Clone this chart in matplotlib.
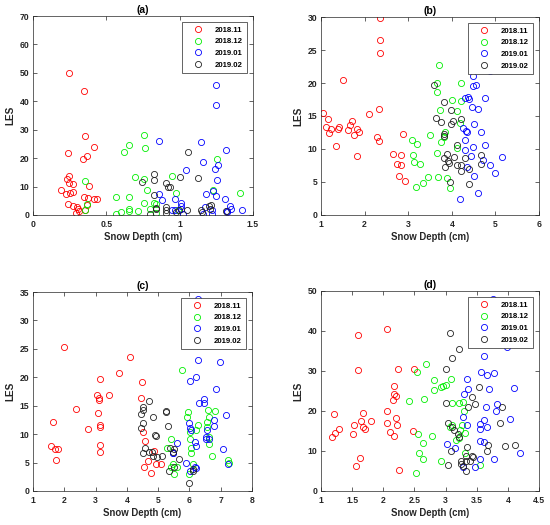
import matplotlib
matplotlib.use("Agg")
import matplotlib.pyplot as plt

plt.rcParams['font.family'] = ['Liberation Sans', 'DejaVu Sans']
plt.rcParams['font.weight'] = 'bold'

series_names = ["2018.11", "2018.12", "2019.01", "2019.02"]
series_colors = ["#ff0000", "#00ee00", "#0000ff", "#222222"]

# ---------------- Panel (a) ----------------
a_1811_x = [0.243, 0.35, 0.357, 0.236, 0.416, 0.37, 0.34, 0.245, 0.234, 0.243, 0.275, 0.384, 0.189, 0.273,
            0.227, 0.255, 0.35, 0.375, 0.418, 0.436, 0.236, 0.275, 0.37, 0.30, 0.305, 0.352, 0.29, 0.311]
a_1811_y = [49.8, 43.6, 27.8, 21.8, 24.0, 20.7, 19.7, 13.7, 12.5, 11.1, 10.8, 10.3, 8.8, 8.2,
            7.4, 7.6, 6.2, 6.0, 5.5, 5.7, 3.9, 3.2, 3.5, 2.7, 2.1, 1.9, 0.8, 1.5]
a_1812_x = [0.357, 0.368, 0.355, 0.568, 0.568, 0.60, 0.618, 0.657, 0.655, 0.655, 0.655, 0.695, 0.714, 0.755,
            0.755, 0.757, 0.766, 0.775, 0.80, 0.825, 0.84, 0.836, 0.945, 0.973, 0.989, 1.252, 1.227, 1.41]
a_1812_y = [12.0, 3.8, 1.8, 6.4, 0.35, 0.9, 22.0, 24.5, 6.2, 2.0, 1.3, 13.2, 1.5, 12.8,
            4.3, 28.0, 23.4, 8.9, 2.0, 4.1, 3.9, 0.8, 13.7, 7.9, 1.8, 19.7, 8.8, 7.9]
a_1901_x = [1.248, 1.248, 0.857, 1.145, 1.318, 1.161, 1.264, 1.243, 1.043, 1.257, 0.859, 0.88, 1.182, 1.227,
            1.25, 1.309, 1.345, 1.35, 1.425, 0.97, 1.011, 1.011, 1.007, 0.97, 0.95, 1.02, 1.157, 1.17,
            1.218, 1.22, 1.32, 1.32]
a_1901_y = [45.8, 38.8, 26.0, 25.7, 23.0, 18.5, 17.6, 16.1, 15.8, 12.3, 7.3, 5.2, 7.5, 8.6,
            6.8, 5.5, 3.3, 2.2, 1.9, 5.6, 4.1, 3.2, 2.2, 1.8, 1.8, 0.5, 0.35, 2.9,
            0.35, 1.8, 1.3, 0.9]
a_1902_x = [0.827, 0.827, 0.741, 0.905, 0.923, 0.936, 1.005, 1.059, 1.123, 0.827, 0.84, 0.84, 0.905, 0.905,
            0.905, 0.80, 0.973, 0.995, 1.052, 1.145, 1.152, 1.198, 1.214, 1.207, 1.318]
a_1902_y = [14.3, 12.2, 11.7, 11.2, 9.7, 10.0, 13.4, 22.0, 13.0, 7.2, 2.3, 2.0, 2.8, 1.8,
            0.6, 0.5, 1.0, 1.9, 1.8, 1.8, 0.9, 3.3, 3.6, 2.0, 1.3]

# ---------------- Panel (b) ----------------
b_1811_x = [2.351, 2.344, 2.359, 1.511, 1.046, 1.153, 1.122, 1.237, 1.191, 1.382, 1.405, 1.618, 1.664, 1.718,
            1.817, 1.756, 1.87, 1.351, 1.817, 2.092, 2.328, 2.29, 2.336, 2.87, 2.649, 2.84, 2.748, 2.824,
            2.79, 2.916]
b_1811_y = [29.8, 26.5, 24.6, 20.5, 15.4, 14.6, 13.4, 13.0, 12.4, 13.1, 13.4, 12.9, 13.7, 14.3,
            13.0, 12.1, 12.6, 10.4, 9.0, 15.3, 16.1, 11.8, 11.2, 12.2, 9.2, 9.1, 7.7, 7.5,
            5.9, 5.2]
b_1812_x = [3.707, 3.67, 3.65, 4.22, 4.0, 4.22, 3.72, 4.13, 4.18, 3.84, 3.81, 3.75, 3.5, 3.08,
            3.2, 3.12, 3.14, 3.26, 3.67, 3.68, 3.9, 3.46, 3.33, 3.17, 3.96, 4.13]
b_1812_y = [22.8, 20.0, 18.6, 20.0, 17.5, 17.2, 15.9, 15.8, 14.0, 12.6, 11.8, 11.1, 12.1, 11.3,
            10.8, 9.1, 8.1, 7.7, 9.4, 5.8, 5.6, 5.8, 4.9, 4.2, 4.1, 10.1]
b_1901_x = [4.49, 4.48, 4.56, 4.88, 4.3, 4.37, 4.4, 4.76, 4.46, 4.61, 4.52, 4.25, 4.33, 4.36,
            4.66, 4.3, 4.76, 4.49, 4.3, 4.43, 4.71, 5.15, 4.36, 4.87, 4.98, 4.52, 4.6, 4.19]
b_1901_y = [21.0, 19.6, 19.7, 21.8, 17.7, 17.9, 17.6, 17.7, 16.3, 16.0, 13.8, 13.2, 12.8, 12.5,
            12.6, 11.3, 10.6, 10.3, 9.9, 9.0, 8.4, 8.8, 7.3, 7.6, 6.3, 5.9, 3.4, 2.4]
b_1902_x = [3.6, 3.81, 3.98, 3.63, 3.75, 4.03, 3.99, 4.22, 3.81, 3.81, 4.11, 3.89, 3.81, 3.92,
            3.94, 3.85, 4.05, 4.11, 4.31, 4.22, 4.2, 4.39, 4.67, 4.68, 3.95, 4.4]
b_1902_y = [19.7, 17.1, 15.9, 14.7, 14.1, 14.2, 13.8, 14.6, 12.2, 12.0, 10.6, 9.3, 8.6, 8.2,
            7.9, 7.2, 8.8, 7.6, 8.7, 7.5, 6.7, 7.0, 9.1, 7.7, 5.0, 4.7]

# ---------------- Panel (c) ----------------
c_1811_x = [1.98, 4.11, 3.76, 3.15, 4.49, 2.36, 3.06, 3.12, 3.11, 3.42, 4.45, 3.09, 1.64, 3.14,
            3.15, 2.75, 4.52, 4.59, 3.14, 3.14, 1.59, 1.70, 1.80, 1.75, 4.87, 4.68, 4.93, 5.08,
            4.56, 4.76]
c_1811_y = [25.4, 23.5, 20.8, 19.7, 19.1, 14.4, 16.8, 16.4, 16.0, 16.9, 16.3, 13.7, 12.2, 11.6,
            11.3, 10.9, 10.3, 8.8, 8.1, 6.8, 8.0, 7.3, 7.3, 5.5, 7.0, 5.3, 4.8, 4.8,
            4.2, 3.2]
c_1812_x = [5.76, 5.97, 5.92, 6.27, 6.20, 6.02, 6.59, 6.83, 6.62, 6.56, 6.56, 6.64, 6.62, 6.73,
            5.42, 6.02, 5.28, 6.04, 6.04, 5.47, 5.42, 5.60, 5.51, 6.11, 6.00, 7.25, 7.26]
c_1812_y = [21.3, 13.9, 13.0, 11.6, 10.8, 10.4, 14.2, 14.1, 13.0, 12.2, 11.2, 9.5, 8.2, 6.2,
            9.2, 9.2, 7.5, 7.5, 6.6, 4.8, 4.2, 4.2, 2.9, 4.8, 2.9, 5.4, 5.0]
c_1901_x = [6.28, 6.27, 6.99, 6.02, 6.22, 6.86, 6.47, 6.31, 6.47, 7.16, 6.00, 6.02, 6.05, 6.79,
            6.79, 6.56, 6.52, 6.52, 6.64, 6.19, 6.22, 5.60, 5.49, 5.47, 5.88, 7.09, 7.24, 6.02,
            6.19, 6.22]
c_1901_y = [33.8, 23.0, 22.7, 19.4, 20.1, 17.9, 16.1, 15.4, 15.4, 13.3, 11.9, 11.0, 10.7, 12.4,
            11.5, 10.7, 9.5, 9.2, 9.2, 8.7, 8.0, 8.5, 6.7, 6.6, 4.9, 7.3, 4.7, 3.6,
            4.3, 4.0]
c_1902_x = [4.72, 4.53, 4.53, 4.46, 4.83, 5.25, 5.25, 4.53, 4.45, 5.33, 4.90, 4.92, 4.57, 4.53,
            4.72, 4.79, 4.85, 4.95, 5.14, 5.38, 5.52, 5.49, 5.68, 5.36, 5.50, 6.13, 6.11, 6.00]
c_1902_y = [15.9, 14.8, 14.2, 13.6, 13.1, 14.1, 13.9, 12.0, 11.0, 11.4, 9.9, 9.7, 7.5, 6.6,
            6.9, 6.9, 6.2, 6.0, 6.2, 7.6, 7.3, 6.8, 5.6, 3.6, 4.2, 3.9, 3.5, 1.4]

# ---------------- Panel (d) ----------------
d_1811_x = [1.588, 2.064, 1.588, 2.235, 2.50, 2.165, 2.17, 2.21, 2.16, 2.06, 1.21, 1.67, 2.065, 2.21,
            2.22, 1.65, 1.80, 1.53, 1.68, 1.71, 1.29, 1.23, 1.18, 1.51, 2.11, 2.18, 2.47, 1.63,
            1.56, 2.26]
d_1811_y = [39.1, 40.4, 30.2, 30.4, 30.4, 26.3, 24.2, 23.7, 22.7, 20.0, 19.2, 19.5, 17.1, 18.3,
            16.5, 17.6, 17.4, 16.6, 15.9, 15.4, 15.6, 14.4, 13.6, 14.2, 14.8, 13.8, 15.0, 8.3,
            6.2, 5.2]
d_1812_x = [2.684, 2.54, 2.81, 3.09, 2.81, 2.92, 2.96, 3.0, 2.66, 2.42, 3.11, 3.22, 3.28, 3.30,
            3.26, 3.10, 3.07, 3.23, 3.32, 3.21, 3.17, 2.55, 2.78, 2.64, 2.57, 2.64, 2.92, 2.53,
            3.32, 3.56]
d_1812_y = [31.8, 29.8, 27.7, 28.0, 25.3, 26.0, 26.3, 26.4, 23.1, 22.4, 22.0, 22.1, 22.3, 19.9,
            16.5, 16.4, 15.9, 15.3, 14.4, 13.2, 12.8, 14.3, 13.8, 12.1, 9.6, 8.1, 7.4, 4.4,
            9.4, 6.5]
d_1901_x = [3.76, 3.98, 3.62, 3.57, 3.66, 3.78, 3.34, 3.36, 3.70, 4.10, 3.30, 3.65, 3.82, 3.81,
            4.03, 3.28, 3.34, 3.62, 3.55, 3.66, 3.55, 3.03, 3.15, 3.56, 3.61, 4.20, 3.56, 3.78,
            3.48, 3.28]
d_1901_y = [48.0, 36.1, 33.7, 29.7, 28.9, 29.4, 28.0, 25.6, 25.5, 25.8, 24.2, 21.1, 21.8, 20.1,
            18.0, 18.4, 16.5, 17.8, 16.7, 16.1, 15.4, 11.7, 10.8, 12.5, 12.2, 9.5, 8.1, 8.1,
            6.0, 6.0]
d_1902_x = [3.07, 3.22, 3.10, 3.00, 3.53, 3.43, 3.48, 3.36, 3.00, 3.90, 3.87, 3.04, 3.11, 3.14,
            3.20, 3.22, 3.35, 3.68, 3.66, 3.95, 4.12, 3.08, 3.04, 3.33, 3.42, 3.33, 3.39, 3.25,
            3.24, 3.28, 3.33, 3.44]
d_1902_y = [39.6, 35.4, 33.3, 30.4, 26.0, 23.4, 21.8, 20.9, 22.0, 20.9, 17.1, 16.9, 15.9, 15.3,
            14.3, 13.4, 11.1, 11.5, 10.0, 11.3, 11.5, 10.0, 6.6, 8.8, 8.8, 7.5, 7.5, 7.5,
            6.7, 6.2, 4.9, 8.4]

panels = [
    dict(title="(a)", series=[(a_1811_x, a_1811_y), (a_1812_x, a_1812_y), (a_1901_x, a_1901_y), (a_1902_x, a_1902_y)],
         xlim=(0, 1.5), xticks=[0, 0.5, 1, 1.5], ylim=(0, 70), yticks=list(range(0, 71, 10)),
         pos=[0.060, 0.5905, 0.400, 0.379]),
    dict(title="(b)", series=[(b_1811_x, b_1811_y), (b_1812_x, b_1812_y), (b_1901_x, b_1901_y), (b_1902_x, b_1902_y)],
         xlim=(1, 6), xticks=[1, 2, 3, 4, 5, 6], ylim=(0, 30), yticks=list(range(0, 31, 5)),
         pos=[0.5836, 0.5905, 0.3964, 0.3771]),
    dict(title="(c)", series=[(c_1811_x, c_1811_y), (c_1812_x, c_1812_y), (c_1901_x, c_1901_y), (c_1902_x, c_1902_y)],
         xlim=(1, 8), xticks=[1, 2, 3, 4, 5, 6, 7, 8], ylim=(0, 35), yticks=list(range(0, 36, 5)),
         pos=[0.060, 0.0648, 0.398, 0.379]),
    dict(title="(d)", series=[(d_1811_x, d_1811_y), (d_1812_x, d_1812_y), (d_1901_x, d_1901_y), (d_1902_x, d_1902_y)],
         xlim=(1, 4.5), xticks=[1, 1.5, 2, 2.5, 3, 3.5, 4, 4.5], ylim=(0, 50), yticks=list(range(0, 51, 10)),
         pos=[0.5836, 0.0648, 0.3964, 0.381]),
]

fig = plt.figure(figsize=(5.5, 5.25), dpi=100)
frame_col = "#262626"
for p in panels:
    ax = fig.add_axes(p["pos"])
    for (xs, ys), name, col in zip(p["series"], series_names, series_colors):
        ax.plot(xs, ys, linestyle="none", marker="o", markersize=4.4, markerfacecolor="none",
                markeredgecolor=col, markeredgewidth=0.6, label=name, clip_on=True)
    ax.set_xlim(*p["xlim"])
    ax.set_ylim(*p["ylim"])
    ax.set_xticks(p["xticks"])
    ax.set_yticks(p["yticks"])
    ax.set_xticklabels([("%g" % v) for v in p["xticks"]])
    ax.tick_params(direction="in", top=True, right=True, length=3, width=0.5,
                   labelsize=6.2, colors=frame_col)
    ax.tick_params(axis="x", pad=3.5)
    ax.tick_params(axis="y", pad=2.5)
    for lab in ax.get_xticklabels() + ax.get_yticklabels():
        lab.set_fontweight("bold")
    for s in ax.spines.values():
        s.set_color(frame_col)
        s.set_linewidth(0.5)
    ax.set_title(p["title"], fontsize=7.5, fontweight="bold", pad=2, color="black")
    ax.set_xlabel("Snow Depth (cm)", fontsize=6.9, fontweight="bold", labelpad=2.5, color=frame_col)
    ax.set_ylabel("LES", fontsize=7.2, fontweight="bold", labelpad=3, color=frame_col)
    leg = ax.legend(loc="upper right", frameon=True, fancybox=False, framealpha=1,
                    edgecolor=frame_col, borderaxespad=0.8, handlelength=3.1, handletextpad=0.65,
                    labelspacing=0.55, borderpad=0.5, prop=dict(weight="bold", size=5.6))
    leg.get_frame().set_linewidth(0.5)
    leg.set_zorder(10)

fig.savefig("out.png", dpi=100)
